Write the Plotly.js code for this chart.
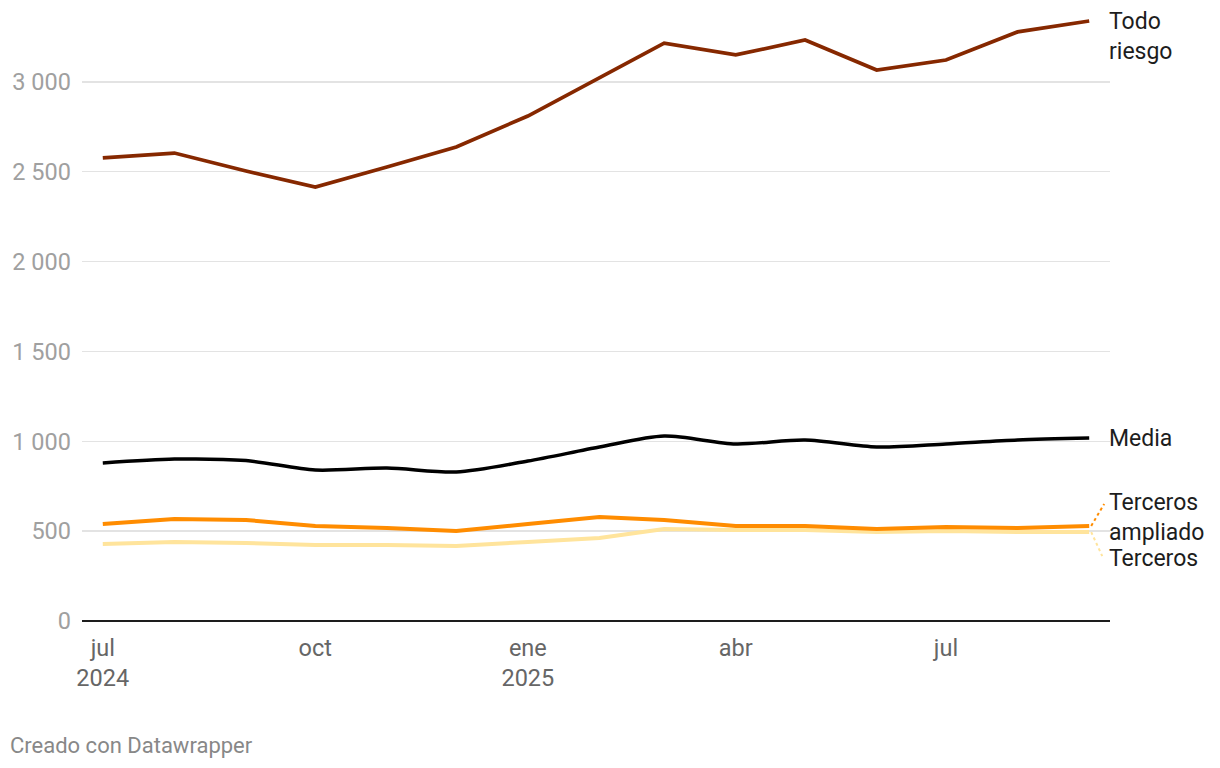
<!DOCTYPE html>
<html>
<head>
<meta charset="utf-8">
<script src="https://cdn.plot.ly/plotly-3.0.1.min.js"></script>
<style>
  html, body { margin: 0; padding: 0; background: #fff; }
  #chart { width: 1220px; height: 768px; }
</style>
</head>
<body>
<div id="chart"></div>
<script>
const months = ['2024-07-01','2024-08-01','2024-09-01','2024-10-01','2024-11-01','2024-12-01','2025-01-01','2025-02-01','2025-03-01','2025-04-01','2025-05-01','2025-06-01','2025-07-01','2025-08-01','2025-09-01'];
const todoRiesgo = [2577, 2604, 2504, 2415, 2526, 2638, 2810, 3022, 3216, 3150, 3233, 3066, 3122, 3278, 3339];
const media = [879, 901, 893, 840, 851, 829, 890, 968, 1029, 985, 1007, 968, 985, 1007, 1018];
const tercerosAmpliado = [540, 568, 562, 529, 518, 501, 540, 579, 562, 529, 529, 512, 523, 518, 529];
const terceros = [428, 440, 434, 423, 423, 417, 440, 462, 512, 506, 506, 495, 501, 495, 495];

const tickVals = ['2024-07-01','2024-10-01','2025-01-01','2025-04-01','2025-07-01'];
const tickText = ['jul<br>2024','oct','ene<br>2025','abr','jul'];
const yTicks = [0, 500, 1000, 1500, 2000, 2500, 3000];

const FONT = 'Roboto, "Noto Sans", sans-serif';
const last = months.length - 1;

const traces = [
  {x: months, y: terceros, mode: 'lines', line: {color: '#ffe49c', width: 4}, name: 'Terceros'},
  {x: months, y: tercerosAmpliado, mode: 'lines', line: {color: '#ff8c00', width: 4}, name: 'Terceros ampliado'},
  {x: months, y: media, mode: 'lines', line: {color: '#000000', width: 3.5, shape: 'spline', smoothing: 0.8}, name: 'Media'},
  {x: months, y: todoRiesgo, mode: 'lines', line: {color: '#862800', width: 3.7}, name: 'Todo riesgo'}
];

function label(text, yval, yshift) {
  return {
    xref: 'paper', x: 1, yref: 'y', y: yval, xanchor: 'left', yanchor: 'middle',
    yshift: yshift, xshift: -2, showarrow: false, align: 'left', text: text,
    borderpad: 0,
    font: {family: FONT, size: 23, color: '#1d1d1d'}
  };
}

const layout = {
  width: 1220, height: 768,
  margin: {l: 82, r: 110, t: 10, b: 147},
  paper_bgcolor: '#fff', plot_bgcolor: '#fff',
  showlegend: false,
  separators: ', ',
  font: {family: FONT},
  xaxis: {
    type: 'date',
    range: ['2024-06-22', '2025-09-10'],
    tickvals: tickVals, ticktext: tickText,
    showgrid: false, zeroline: false, showline: false, ticks: '',
    ticklabelstandoff: 10,
    tickfont: {family: FONT, size: 23.5, color: '#666666'},
    fixedrange: true
  },
  yaxis: {
    range: [0, 3400],
    tickvals: yTicks,
    separatethousands: true,
    showgrid: true, gridcolor: '#e3e3e3', gridwidth: 1.5,
    zeroline: true, zerolinecolor: '#1d1d1d', zerolinewidth: 2,
    showline: false, ticks: '',
    ticklabelstandoff: 10,
    tickfont: {family: FONT, size: 23.5, color: '#a0a0a0'},
    fixedrange: true
  },
  annotations: [
    label('Todo<br>riesgo', todoRiesgo[last], -16),
    label('Media', media[last], 0),
    label('Terceros<br>ampliado', tercerosAmpliado[last], 8),
    label('Terceros', terceros[last], -26),
    {
      xref: 'paper', yref: 'paper', x: -0.07, y: -0.203, xanchor: 'left', yanchor: 'middle',
      xshift: -2, showarrow: false, text: 'Creado con Datawrapper',
      font: {family: FONT, size: 22, color: '#888888'}
    }
  ],
  shapes: [
    {type: 'line', xref: 'x', yref: 'y', xsizemode: 'pixel', ysizemode: 'pixel',
     xanchor: months[last], yanchor: tercerosAmpliado[last], x0: 2, x1: 15, y0: 0, y1: 22,
     line: {color: '#ff8c00', width: 2, dash: 'dot'}},
    {type: 'line', xref: 'x', yref: 'y', xsizemode: 'pixel', ysizemode: 'pixel',
     xanchor: months[last], yanchor: terceros[last], x0: 2, x1: 13, y0: 0, y1: -24,
     line: {color: '#ffe49c', width: 2, dash: 'dot'}}
  ]
};

Plotly.newPlot('chart', traces, layout, {displayModeBar: false, staticPlot: true});
</script>
</body>
</html>
